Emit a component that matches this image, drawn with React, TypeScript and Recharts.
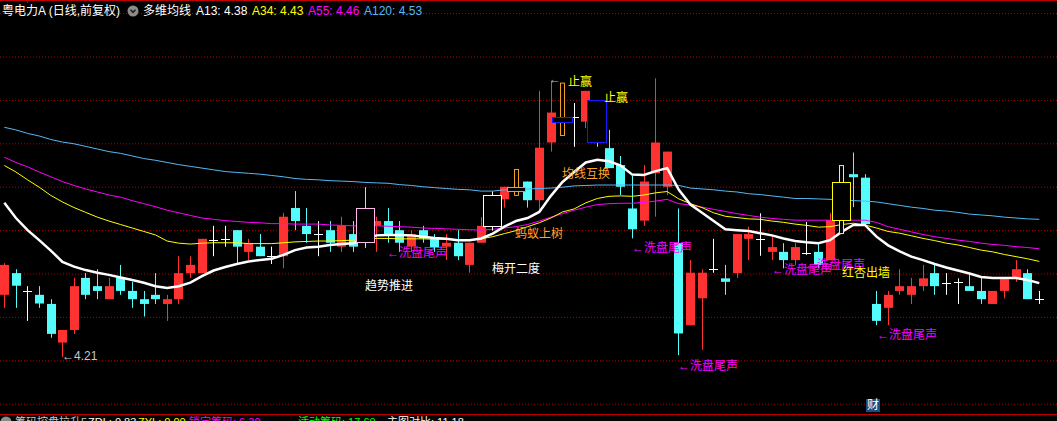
import React from 'react';
import { ComposedChart, Bar, Line, XAxis, YAxis, CartesianGrid, ReferenceDot } from 'recharts';

// ---- candle data (price) ----
const openP = [
  4.352, 4.402, 4.361, 4.352, 4.331, 4.242, 4.271, 4.391, 4.372, 4.342,
  4.391, 4.361, 4.342, 4.352, 4.331, 4.342, 4.402, 4.402, 4.479, 4.481,
  4.501, 4.451, 4.463, 4.441, 4.441, 4.552, 4.511, 4.492, 4.501, 4.463,
  4.492, 4.471, 4.511, 4.522, 4.501, 4.463, 4.501, 4.482, 4.463, 4.472,
  4.421, 4.472, 4.509, 4.572, 4.590, 4.613, 4.570, 4.703, 4.749, 4.762,
  4.751, 4.801, 4.690, 4.651, 4.551, 4.523, 4.632, 4.601, 4.471, 4.282,
  4.344, 4.411, 4.390, 4.402, 4.481, 4.481, 4.451, 4.451, 4.432, 4.449,
  4.451, 4.432, 4.520, 4.630, 4.622, 4.331, 4.322, 4.361, 4.352, 4.372,
  4.402, 4.380, 4.382, 4.372, 4.361, 4.331, 4.361, 4.390, 4.402, 4.342,
];
const highP = [
  4.425, 4.411, 4.372, 4.372, 4.342, 4.271, 4.391, 4.402, 4.411, 4.391,
  4.421, 4.382, 4.361, 4.402, 4.352, 4.441, 4.441, 4.481, 4.511, 4.511,
  4.501, 4.481, 4.492, 4.463, 4.541, 4.591, 4.552, 4.522, 4.522, 4.532,
  4.522, 4.600, 4.532, 4.552, 4.522, 4.501, 4.511, 4.492, 4.492, 4.501,
  4.472, 4.531, 4.590, 4.601, 4.642, 4.613, 4.822, 4.845, 4.841, 4.794,
  4.822, 4.801, 4.732, 4.672, 4.626, 4.651, 4.851, 4.682, 4.551, 4.432,
  4.411, 4.481, 4.421, 4.492, 4.509, 4.540, 4.488, 4.471, 4.471, 4.520,
  4.471, 4.541, 4.651, 4.680, 4.630, 4.361, 4.361, 4.411, 4.391, 4.421,
  4.421, 4.402, 4.390, 4.402, 4.391, 4.361, 4.388, 4.432, 4.411, 4.361,
];
const lowP = [
  4.322, 4.322, 4.292, 4.322, 4.253, 4.209, 4.262, 4.342, 4.342, 4.342,
  4.352, 4.322, 4.302, 4.331, 4.292, 4.331, 4.391, 4.402, 4.441, 4.463,
  4.425, 4.432, 4.441, 4.423, 4.413, 4.501, 4.472, 4.441, 4.451, 4.451,
  4.451, 4.460, 4.451, 4.472, 4.451, 4.451, 4.472, 4.451, 4.432, 4.432,
  4.403, 4.472, 4.500, 4.553, 4.580, 4.553, 4.544, 4.682, 4.718, 4.693,
  4.736, 4.693, 4.644, 4.582, 4.482, 4.511, 4.532, 4.582, 4.213, 4.282,
  4.225, 4.403, 4.352, 4.391, 4.432, 4.442, 4.432, 4.413, 4.421, 4.444,
  4.413, 4.432, 4.492, 4.554, 4.511, 4.282, 4.282, 4.352, 4.331, 4.361,
  4.352, 4.352, 4.331, 4.361, 4.331, 4.331, 4.344, 4.382, 4.342, 4.331,
];
const closeP = [
  4.421, 4.373, 4.361, 4.332, 4.262, 4.271, 4.372, 4.352, 4.361, 4.372,
  4.361, 4.342, 4.331, 4.342, 4.342, 4.402, 4.421, 4.481, 4.479, 4.481,
  4.463, 4.471, 4.441, 4.441, 4.532, 4.522, 4.492, 4.492, 4.472, 4.512,
  4.463, 4.552, 4.522, 4.492, 4.472, 4.492, 4.482, 4.461, 4.472, 4.441,
  4.472, 4.511, 4.582, 4.601, 4.601, 4.570, 4.691, 4.772, 4.762, 4.762,
  4.822, 4.701, 4.644, 4.601, 4.503, 4.613, 4.703, 4.682, 4.263, 4.403,
  4.403, 4.411, 4.382, 4.492, 4.492, 4.481, 4.462, 4.432, 4.462, 4.449,
  4.421, 4.524, 4.611, 4.623, 4.515, 4.292, 4.352, 4.372, 4.372, 4.390,
  4.372, 4.380, 4.382, 4.361, 4.342, 4.361, 4.388, 4.411, 4.342, 4.342,
];

// ---- moving averages ----
const ma13 = [
  4.564, 4.529, 4.501, 4.478, 4.454, 4.428, 4.417, 4.409, 4.403, 4.398,
  4.392, 4.386, 4.380, 4.372, 4.368, 4.372, 4.380, 4.395, 4.408, 4.416,
  4.423, 4.429, 4.432, 4.435, 4.444, 4.455, 4.461, 4.463, 4.467, 4.469,
  4.471, 4.479, 4.489, 4.490, 4.490, 4.489, 4.486, 4.483, 4.481, 4.478,
  4.478, 4.482, 4.493, 4.509, 4.522, 4.529, 4.543, 4.580, 4.612, 4.635,
  4.657, 4.663, 4.660, 4.650, 4.629, 4.628, 4.637, 4.644, 4.594, 4.560,
  4.541, 4.522, 4.503, 4.501, 4.499, 4.494, 4.489, 4.482, 4.476, 4.473,
  4.471, 4.478, 4.497, 4.513, 4.513, 4.486, 4.466, 4.452, 4.440, 4.432,
  4.423, 4.415, 4.408, 4.401, 4.393, 4.391, 4.391, 4.391, 4.386, 4.379,
];
const ma34 = [
  4.650, 4.635, 4.617, 4.600, 4.581, 4.566, 4.553, 4.542, 4.531, 4.522,
  4.514, 4.506, 4.498, 4.490, 4.476, 4.471, 4.469, 4.471, 4.472, 4.472,
  4.472, 4.470, 4.470, 4.470, 4.472, 4.474, 4.475, 4.476, 4.476, 4.477,
  4.478, 4.481, 4.482, 4.482, 4.481, 4.481, 4.481, 4.480, 4.480, 4.479,
  4.478, 4.481, 4.486, 4.493, 4.500, 4.509, 4.518, 4.529, 4.543, 4.550,
  4.564, 4.574, 4.579, 4.580, 4.579, 4.582, 4.587, 4.590, 4.573, 4.562,
  4.553, 4.541, 4.533, 4.530, 4.527, 4.526, 4.522, 4.519, 4.515, 4.512,
  4.508, 4.509, 4.514, 4.517, 4.513, 4.506, 4.498, 4.494, 4.488, 4.482,
  4.477, 4.471, 4.467, 4.461, 4.455, 4.451, 4.445, 4.440, 4.435, 4.429,
];
const ma55 = [
  4.669, 4.657, 4.647, 4.635, 4.624, 4.613, 4.604, 4.596, 4.589, 4.582,
  4.577, 4.569, 4.562, 4.555, 4.547, 4.541, 4.535, 4.529, 4.526, 4.523,
  4.521, 4.519, 4.518, 4.516, 4.516, 4.515, 4.515, 4.515, 4.513, 4.512,
  4.511, 4.511, 4.511, 4.510, 4.509, 4.508, 4.506, 4.505, 4.504, 4.503,
  4.502, 4.501, 4.503, 4.506, 4.509, 4.514, 4.522, 4.531, 4.539, 4.547,
  4.554, 4.560, 4.562, 4.563, 4.563, 4.565, 4.568, 4.572, 4.562, 4.559,
  4.554, 4.549, 4.544, 4.539, 4.535, 4.531, 4.528, 4.526, 4.524, 4.524,
  4.524, 4.524, 4.524, 4.524, 4.524, 4.519, 4.509, 4.503, 4.497, 4.491,
  4.486, 4.482, 4.478, 4.475, 4.471, 4.468, 4.466, 4.463, 4.461, 4.458,
];
const ma120 = [
  4.738, 4.732, 4.724, 4.718, 4.710, 4.704, 4.700, 4.694, 4.688, 4.682,
  4.678, 4.672, 4.666, 4.662, 4.657, 4.652, 4.648, 4.644, 4.640, 4.636,
  4.634, 4.632, 4.630, 4.627, 4.624, 4.620, 4.618, 4.617, 4.615, 4.614,
  4.613, 4.611, 4.610, 4.609, 4.606, 4.604, 4.601, 4.599, 4.597, 4.595,
  4.594, 4.591, 4.591, 4.594, 4.595, 4.596, 4.597, 4.598, 4.600, 4.603,
  4.604, 4.605, 4.605, 4.605, 4.605, 4.605, 4.605, 4.605, 4.604, 4.598,
  4.596, 4.594, 4.591, 4.589, 4.585, 4.583, 4.580, 4.577, 4.574, 4.574,
  4.573, 4.572, 4.571, 4.569, 4.568, 4.566, 4.562, 4.558, 4.554, 4.551,
  4.547, 4.545, 4.542, 4.538, 4.536, 4.534, 4.531, 4.529, 4.527, 4.526,
];

// special (indicator-drawn) candles
const specialIdx = [31, 42, 44, 48, 51, 72];
const specialKind = ['pink', 'white', 'orange', 'blueOrange', 'blue', 'yellow'];

// horizontal grid levels
const gridLevels = [4.2, 4.3, 4.4, 4.5, 4.6, 4.7, 4.8, 4.9];

// annotations
const noteText = ['←4.21', '趋势推进', '←洗盘尾声', '梅开二度', '蚂蚁上树', '均线互换', '←', '止赢', '止赢', '←洗盘尾声', '←洗盘尾声', '←洗盘尾声', '←洗盘尾声', '红杏出墙', '←洗盘尾声'];
const noteX = [4.96, 31.01, 32.91, 41.93, 43.91, 47.95, 46.84, 48.47, 51.56, 53.97, 57.93, 66.01, 68.85, 72.03, 75.04];
const noteY = [4.211, 4.372, 4.448, 4.412, 4.492, 4.630, 4.849, 4.842, 4.806, 4.460, 4.188, 4.409, 4.421, 4.402, 4.259];
const noteColor = ['#c8c8c8', '#ffffff', '#ff00ff', '#ffffff', '#ffa530', '#ffa530', '#b0b0b0', '#ffff00', '#ffff00', '#ff00ff', '#ff00ff', '#ff00ff', '#ff00ff', '#ffff00', '#ff00ff'];

const tickIdx = openP.map((_, i) => i);

const data = openP.map((o, i) => {
  const k = specialIdx.indexOf(i);
  return {
    i,
    o,
    h: highP[i],
    l: lowP[i],
    c: closeP[i],
    a13: ma13[i],
    a34: ma34[i],
    a55: ma55[i],
    a120: ma120[i],
    kind: k >= 0 ? specialKind[k] : '',
  };
});

const RED = '#ff3232';
const CYAN = '#54fcfc';
const BLUE_MA = '#55b8f5';
const FONT = '"Liberation Sans", "Noto Sans CJK SC", sans-serif';

const STYLES: Record<string, { box: string; wick: string; rect: boolean; w: number }> = {
  pink: { box: '#ffb8ec', wick: '#ffb8ec', rect: false, w: 19 },
  white: { box: '#ffffff', wick: '#ffffff', rect: false, w: 19 },
  orange: { box: '#f0a020', wick: '#f0a020', rect: true, w: 19 },
  blueOrange: { box: '#1818ff', wick: '#f0a020', rect: true, w: 21 },
  blue: { box: '#1818ff', wick: '#54fcfc', rect: false, w: 20 },
  yellow: { box: '#ffff00', wick: '#ffff00', rect: true, w: 19 },
};

const renderCandle = (p: any) => {
  const { x, y, width, height, payload } = p;
  if (!payload || payload.kind || x == null || y == null || isNaN(y) || isNaN(height)) return <g />;
  const { o, h, l, c } = payload;
  const cx = Math.round(x + width / 2);
  const k = height / (h - l);
  const py = (v: number) => y + (h - v) * k;
  const top = py(Math.max(o, c));
  const bot = py(Math.min(o, c));
  if (c === o) {
    const ly = Math.round(top) + 0.5;
    return (
      <g>
        <line x1={cx + 0.5} x2={cx + 0.5} y1={y} y2={y + height} stroke="#ffffff" strokeWidth={1} />
        <line x1={cx - 4} x2={cx + 5} y1={ly} y2={ly} stroke="#ffffff" strokeWidth={1} />
      </g>
    );
  }
  const color = c > o ? RED : CYAN;
  return (
    <g>
      <line x1={cx + 0.5} x2={cx + 0.5} y1={y} y2={y + height} stroke={color} strokeWidth={1} />
      <rect x={cx - 4} y={top} width={9} height={Math.max(1, bot - top)} fill={color} />
    </g>
  );
};

const renderSpecial = (p: any) => {
  const { x, y, width, height, payload } = p;
  if (!payload || !payload.kind || x == null || y == null || isNaN(y) || isNaN(height)) return <g />;
  const { o, h, l, c, kind } = payload;
  const s = STYLES[kind];
  const cx = Math.round(x + width / 2);
  const k = height / (h - l);
  const py = (v: number) => y + (h - v) * k;
  const top = py(Math.max(o, c));
  const bot = py(Math.min(o, c));
  const bx = cx - Math.floor(s.w / 2) + 0.5;
  return (
    <g>
      {s.rect ? (
        <rect x={cx - 1.5} y={y + 0.5} width={4} height={Math.max(1, height - 1)} fill="#000" stroke={s.wick} strokeWidth={1} />
      ) : (
        <line x1={cx + 0.5} x2={cx + 0.5} y1={y} y2={y + height} stroke={s.wick} strokeWidth={1} />
      )}
      <rect x={bx} y={Math.round(top) + 0.5} width={s.w - 1} height={Math.max(1, Math.round(bot - top) - 1)} fill="#000" stroke={s.box} strokeWidth={1} />
    </g>
  );
};

const txt = (left: number, color: string, s: string, top: number, size = 12) => (
  <span style={{ position: 'absolute', left, top, color, fontSize: size, lineHeight: '14px', whiteSpace: 'nowrap', fontFamily: FONT }}>{s}</span>
);

export default function App() {
  return (
    <div style={{ position: 'absolute', left: 0, top: 0, width: 1057, height: 421, background: '#000', overflow: 'hidden', fontFamily: FONT }}>
      <ComposedChart width={1057} height={421} data={data} margin={{ top: 13.6, right: 0, bottom: 16.8, left: 0 }}>
        <XAxis xAxisId="a" dataKey="i" type="number" domain={[-0.37, 90.52]} allowDataOverflow hide ticks={tickIdx} />
        <XAxis xAxisId="b" dataKey="i" type="number" domain={[-0.37, 90.52]} allowDataOverflow hide ticks={tickIdx} />
        <YAxis hide type="number" domain={[4.1, 5.0]} allowDataOverflow ticks={gridLevels} />
        <CartesianGrid xAxisId="a" vertical={false} stroke="#b00000" strokeDasharray="1 2" />
        <Bar xAxisId="a" dataKey={(d: any) => (d.kind ? null : [d.l, d.h])} barSize={9} shape={renderCandle} isAnimationActive={false} />
        <Line xAxisId="a" dataKey="a120" stroke={BLUE_MA} strokeWidth={1} dot={false} activeDot={false} isAnimationActive={false} />
        <Line xAxisId="a" dataKey="a55" stroke="#ff00ff" strokeWidth={1} dot={false} activeDot={false} isAnimationActive={false} />
        <Line xAxisId="a" dataKey="a34" stroke="#ffff00" strokeWidth={1} dot={false} activeDot={false} isAnimationActive={false} />
        <Line xAxisId="a" dataKey="a13" stroke="#ffffff" strokeWidth={2.5} dot={false} activeDot={false} isAnimationActive={false} />
        <Bar xAxisId="b" dataKey={(d: any) => (d.kind ? [d.l, d.h] : null)} barSize={9} shape={renderSpecial} isAnimationActive={false} zIndex={450} />
        {noteText.map((t, k) => (
          <ReferenceDot
            key={k}
            xAxisId="a"
            x={noteX[k]}
            y={noteY[k]}
            r={0}
            ifOverflow="visible"
            zIndex={2000}
            shape={(p: any) => (
              <text x={p.cx} y={p.cy} fill={noteColor[k]} fontSize={12} fontFamily={FONT} dominantBaseline="central">
                {t}
              </text>
            )}
          />
        ))}
      </ComposedChart>

      {/* top border */}
      <div style={{ position: 'absolute', left: 0, top: 0, width: 1057, height: 1, background: '#c00000' }} />
      <div style={{ position: 'absolute', left: 27, top: 0, width: 1, height: 3, background: '#c00000' }} />

      {/* header */}
      {txt(2, '#ffffff', '粤电力A (日线,前复权)', 4)}
      <svg style={{ position: 'absolute', left: 127, top: 5 }} width={12} height={12}>
        <circle cx={6} cy={6} r={5.5} fill="#8c8c8c" />
        <path d="M3.5 4.8 L6 7.3 L8.5 4.8" stroke="#202020" strokeWidth={1.6} fill="none" />
      </svg>
      {txt(143, '#ffffff', '多维均线', 4)}
      {txt(196, '#ffffff', 'A13: 4.38', 4)}
      {txt(252, '#ffff00', 'A34: 4.43', 4)}
      {txt(308, '#ff00ff', 'A55: 4.46', 4)}
      {txt(364, BLUE_MA, 'A120: 4.53', 4)}

      {/* 财 marker */}
      <div style={{ position: 'absolute', left: 866, top: 399, width: 14, height: 13, background: '#1c4a82', color: '#ffffff', fontSize: 12, lineHeight: '13px', textAlign: 'center', fontFamily: FONT }}>财</div>

      {/* bottom separator and sub-window title */}
      <div style={{ position: 'absolute', left: 0, top: 414, width: 1057, height: 1, background: '#c00000' }} />
      <svg style={{ position: 'absolute', left: 0, top: 416 }} width={12} height={12}>
        <circle cx={6} cy={6} r={5.5} fill="#8c8c8c" />
      </svg>
      {txt(15, '#c8c8c8', '筹码控盘拉升5', 415, 11)}
      {txt(88, '#ffffff', 'ZDL: 0.83', 415, 11)}
      {txt(138, '#ffff00', 'ZYL: 0.00', 415, 11)}
      {txt(189, '#ff00ff', '锁定筹码: 6.39', 415, 11)}
      {txt(298, '#00ff00', '活动筹码: 17.60', 415, 11)}
      {txt(387, '#ffffff', '主图对比: 11.18', 415, 11)}
    </div>
  );
}
